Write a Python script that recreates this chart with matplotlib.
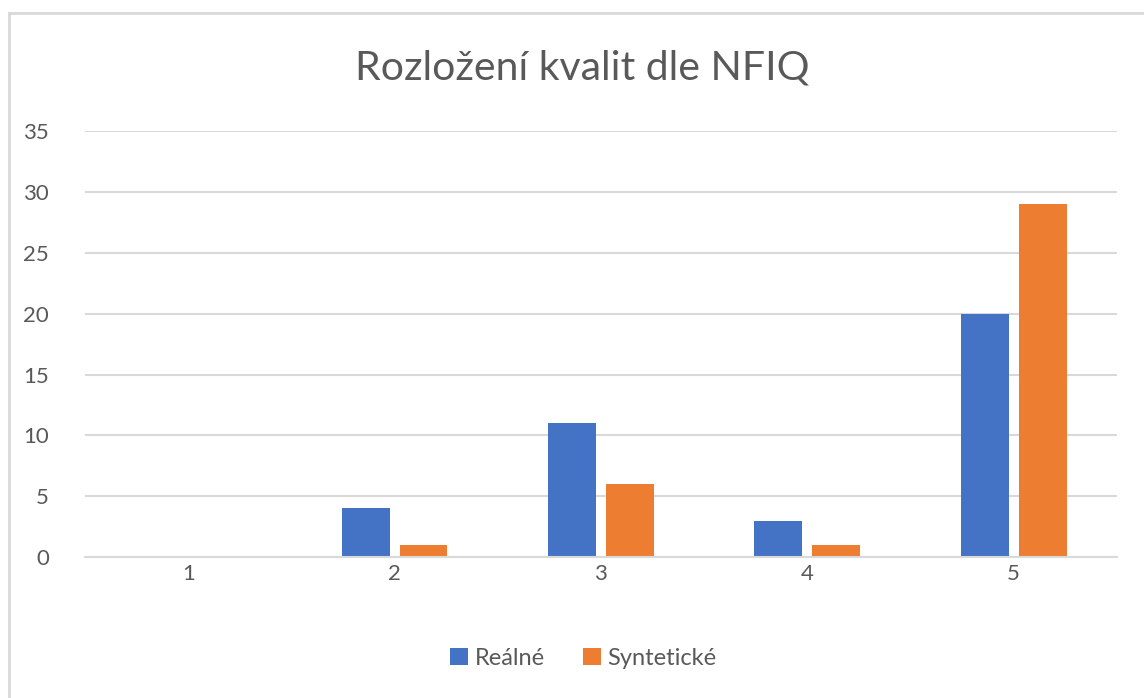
import matplotlib.pyplot as plt
import numpy as np
from matplotlib.lines import Line2D

categories = ["1", "2", "3", "4", "5"]
realne = [0, 4, 11, 3, 20]
synteticke = [0, 1, 6, 1, 29]
series_names = ["Reálné", "Syntetické"]

plt.rcParams["font.family"] = ["Lato", "DejaVu Sans"]
text_color = "#595959"

fig = plt.figure(figsize=(11.44, 6.98), dpi=100)
ax = fig.add_axes([0.0743, 0.202, 0.902, 0.610])

x = np.arange(1, len(categories) + 1)
w = 0.232
off = 0.14
ax.bar(x - off, realne, w, color="#4472C4", label=series_names[0])
ax.bar(x + off, synteticke, w, color="#ED7D31", label=series_names[1])

ax.set_xlim(0.5, 5.5)
ax.set_ylim(0, 35)
ax.set_yticks(range(0, 36, 5))
ax.set_xticks(x)
ax.set_xticklabels(categories)
ax.yaxis.grid(True, color="#D9D9D9", linewidth=1.5)
ax.set_axisbelow(True)
for s in ["top", "right", "left"]:
    ax.spines[s].set_visible(False)
ax.spines["bottom"].set_color("#D9D9D9")
ax.spines["bottom"].set_linewidth(1.5)
ax.tick_params(axis="both", length=0, labelsize=16, colors=text_color)
ax.tick_params(axis="y", pad=26)
ax.tick_params(axis="x", pad=5)

fig.text(0.509, 0.903, "Rozložení kvalit dle NFIQ", ha="center", va="center",
         fontsize=29.5, color=text_color)

ax.legend(loc="center", bbox_to_anchor=(0.51, 0.057), bbox_transform=fig.transFigure,
          ncol=2, frameon=False, fontsize=17, labelcolor=text_color,
          handlelength=0.75, handleheight=0.75, handletextpad=0.3, columnspacing=1.6)

# chart frame (top and left edges visible)
fig.add_artist(Line2D([9 / 1144, 1], [1 - 13 / 698, 1 - 13 / 698],
                      transform=fig.transFigure, color="#D9D9D9", linewidth=2))
fig.add_artist(Line2D([9 / 1144, 9 / 1144], [0, 1 - 13 / 698],
                      transform=fig.transFigure, color="#D9D9D9", linewidth=2))

fig.savefig("out.png", dpi=100)
